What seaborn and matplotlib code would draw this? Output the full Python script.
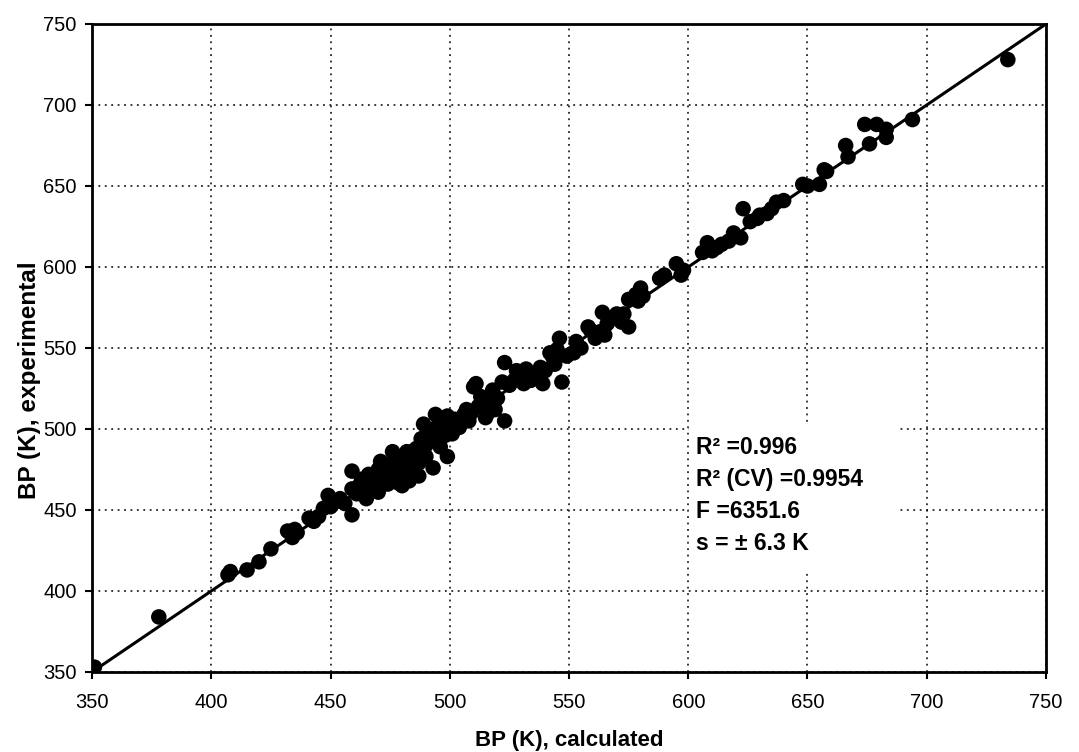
import pandas as pd
import seaborn as sns
import matplotlib.pyplot as plt
from matplotlib.patches import Rectangle

bp_calc = [351, 378, 407, 408, 415, 420, 425, 432, 434, 435, 436, 441, 443, 445, 447, 449,
           450, 452, 454, 456, 459, 459, 459, 461, 463, 464, 465, 466, 467, 468, 469, 470,
           470, 471, 472, 473, 474, 475, 476, 476, 477, 478, 478, 479, 480, 480, 481, 482,
           483, 484, 484, 485, 486, 487, 488, 489, 489, 490, 492, 493, 494, 495, 496, 497,
           499, 499, 500, 501, 503, 505, 507, 509, 510, 511, 512, 514, 515, 516, 518, 520,
           522, 523, 523, 525, 528, 530, 532, 534, 536, 539, 540, 542, 544, 546, 547, 549,
           552, 553, 555, 558, 561, 563, 564, 566, 568, 570, 572, 575, 575, 578, 580, 581,
           590, 595, 597, 598, 606, 608, 610, 614, 617, 619, 622, 623, 626, 629, 633, 637,
           640, 648, 650, 655, 658, 666, 667, 674, 676, 679, 683, 683, 694, 734,
           462, 466, 468, 471, 473, 474, 476, 478, 479, 481, 482, 483, 485, 486, 487, 488,
           490, 491, 493, 496, 498, 502, 504, 506, 508, 513, 517, 519, 527, 531, 538, 543,
           545, 559, 565, 573, 579, 588, 612, 630, 635, 657]
bp_exp = [353, 384, 410, 412, 413, 418, 426, 437, 433, 438, 436, 445, 443, 446, 451, 459,
          452, 455, 457, 454, 447, 474, 463, 460, 469, 465, 457, 467, 462, 471, 466, 461,
          475, 480, 469, 472, 466, 477, 486, 473, 470, 480, 467, 483, 465, 476, 483, 472,
          478, 473, 486, 481, 488, 479, 494, 503, 485, 490, 496, 476, 509, 492, 489, 500,
          508, 483, 500, 497, 504, 506, 512, 510, 526, 528, 514, 516, 507, 510, 524, 519,
          529, 505, 541, 527, 536, 532, 537, 530, 533, 528, 536, 547, 540, 556, 529, 545,
          547, 554, 550, 563, 556, 560, 572, 565, 568, 571, 566, 563, 580, 583, 587, 582,
          595, 602, 595, 598, 609, 615, 610, 614, 616, 621, 618, 636, 628, 630, 633, 640,
          641, 651, 650, 651, 659, 675, 668, 688, 676, 688, 685, 680, 691, 728,
          465, 472, 463, 474, 478, 470, 479, 474, 469, 478, 486, 468, 476, 483, 471, 486,
          483, 498, 500, 505, 496, 506, 501, 509, 505, 520, 517, 512, 530, 528, 538, 545,
          549, 561, 558, 571, 579, 593, 612, 632, 636, 660]

fit_x = [350, 750]
fit_y = [350, 750]

stats_lines = ["R\u00b2 =0.996", "R\u00b2 (CV) =0.9954", "F =6351.6", "s = \u00b1 6.3 K"]

df = pd.DataFrame({'calc': bp_calc, 'exp': bp_exp})
line_df = pd.DataFrame({'x': fit_x, 'y': fit_y})

sns.set_style('white')
plt.rcParams['font.family'] = ['Liberation Sans', 'DejaVu Sans']
plt.rcParams['text.color'] = 'black'
plt.rcParams['axes.labelcolor'] = 'black'
plt.rcParams['xtick.color'] = 'black'
plt.rcParams['ytick.color'] = 'black'

fig = plt.figure(figsize=(10.79, 7.52), dpi=100)
ax = fig.add_axes([0.0853, 0.1064, 0.8841, 0.8617])

sns.lineplot(x='x', y='y', data=line_df, color='black', linewidth=2.2, ax=ax, zorder=3)
sns.scatterplot(x='calc', y='exp', data=df, color='black', s=125, edgecolor='none',
                linewidth=0, ax=ax, zorder=4)

ax.set_xlim(350, 750)
ax.set_ylim(350, 750)
ax.set_xticks(range(350, 751, 50))
ax.set_yticks(range(350, 751, 50))
ax.grid(True, color='black', linestyle=(0, (1.2, 3)), linewidth=1.1)
ax.set_axisbelow(True)
ax.tick_params(axis='both', direction='out', length=5, width=1.5, color='black',
               labelsize=14.5, left=True, bottom=True)
ax.tick_params(axis='x', pad=10)
ax.tick_params(axis='y', pad=6)
for sp in ax.spines.values():
    sp.set_color('black')
    sp.set_linewidth(2)

ax.set_xlabel('BP (K), calculated', fontsize=16, fontweight='bold', labelpad=13)
ax.set_ylabel('BP (K), experimental', fontsize=17.5, fontweight='bold')
ax.yaxis.set_label_coords(-0.054, 0.45)

# white panel behind the statistics
ax.add_patch(Rectangle((0.626, 0.157), 0.217, 0.227, transform=ax.transAxes,
                       facecolor='white', edgecolor='none', zorder=2))
for i, line in enumerate(stats_lines):
    ax.text(0.633, 0.347 - i * 0.0494, line, transform=ax.transAxes, fontsize=16.5,
            fontweight='bold', va='center', ha='left', zorder=5)

fig.savefig('out.png', dpi=100)
